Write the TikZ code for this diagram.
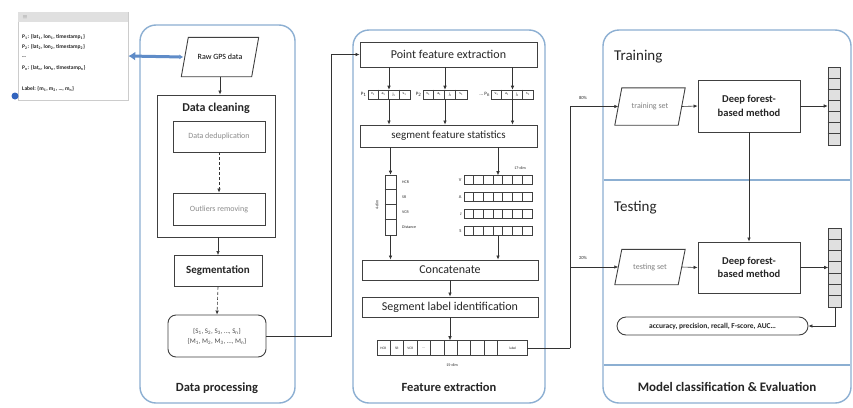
\documentclass[tikz,border=0pt]{standalone}
\usepackage{fontspec}
\setmainfont{Carlito}
\usetikzlibrary{shapes.geometric,arrows.meta,calc}
\definecolor{panelblue}{RGB}{140,175,210}
\definecolor{linkblue}{RGB}{95,140,200}
\definecolor{dotblue}{RGB}{50,100,190}
\tikzset{
  panel/.style={draw=panelblue, line width=1.4pt, rounded corners=16pt},
  box/.style={draw=black!75, line width=0.9pt, inner sep=0pt, align=center, text=black!85},
  arr/.style={-{Latex[length=4pt,width=3.5pt]}, line width=0.6pt, draw=black!80},
  cellbox/.style={draw=black!75, line width=0.6pt, inner sep=0pt},
  para/.style={rectangle, inner sep=0pt, align=center},
  paraline/.style={draw=black!75, line width=0.9pt, line join=miter},
  fs/.style={font=\fontsize{#1}{#1}\selectfont},
  fsb/.style={font=\fontsize{#1}{#1}\selectfont\bfseries},
  lbl/.style={inner sep=0pt, text=black!85},
}
\newcommand\splitcells[4]{% name, n, cell width, offset
  \foreach \i in {1,...,#2} {
    \draw[black!75, line width=0.6pt] ($(#1.north west)+(#4+\i*#3,0)$) -- ($(#1.south west)+(#4+\i*#3,0)$);
  }
}
\newcommand\splitrows[3]{% name, n, cell height
  \foreach \i in {1,...,#2} {
    \draw[black!75, line width=0.6pt] ($(#1.north west)+(0,\i*#3)$) -- ($(#1.north east)+(0,\i*#3)$);
  }
}
\newcommand\paraoutline[2]{% name, slant
  \draw[paraline] (#1.south west) -- ($(#1.north west)+(#2,0)$) -- (#1.north east) -- ($(#1.south east)+(-#2,0)$) -- cycle;
}
\begin{document}
\begin{tikzpicture}[x=1pt,y=-1pt]
\useasboundingbox (0,0) rectangle (853,407);
\fill[white] (0,0) rectangle (853,407);

% ---------- left text box ----------
\node[draw=black!20, line width=0.5pt, minimum width=110pt, minimum height=88pt, inner sep=0pt] (gps) at (73,56) {};
\fill[black!12] ($(gps.north west)+(0.5,0.5)$) rectangle ($(gps.north east)+(-0.5,10)$);
\node[lbl, fs=4, text=black!50] (ico) at (25,17) {$\equiv$};
\node[lbl, fsb=5.5, anchor=west] (g1) at (22,37) {P\textsubscript{1}: \{lat\textsubscript{1}, lon\textsubscript{1}, timestamp\textsubscript{1}\}};
\node[lbl, fsb=5.5, anchor=west] (g2) at (22,47) {P\textsubscript{2}: \{lat\textsubscript{2}, lon\textsubscript{2}, timestamp\textsubscript{2}\}};
\node[lbl, fsb=5.5, anchor=west] (g3) at (22,57) {\dots};
\node[lbl, fsb=5.5, anchor=west] (g4) at (22,68) {P\textsubscript{n}: \{lat\textsubscript{n}, lon\textsubscript{n}, timestamp\textsubscript{n}\}};
\node[lbl, fsb=5.5, anchor=west] (g5) at (22,89) {Label: \{m\textsubscript{1}, m\textsubscript{2}, \dots, m\textsubscript{n}\}};
\node[circle, fill=dotblue, minimum size=7pt, inner sep=0pt] (dot) at (15,96) {};

% ---------- panels ----------
\draw[panel] (140,25) rectangle (295,403);
\draw[panel] (353,30) rectangle (545,403);
\draw[panel] (603,30) rectangle (851,403);
\draw[panelblue, line width=1.4pt] (603.7,180) -- (850.3,180);
\draw[panelblue, line width=1.4pt] (603.7,365) -- (850.3,365);

% ---------- Data processing ----------
\node[para, fs=8, minimum width=77pt, minimum height=39pt] (raw) at (220,57) {Raw GPS data};
\paraoutline{raw}{7}
\draw[linkblue, line width=3pt, {Latex[length=7pt,width=9pt]}-{Latex[length=4pt,width=5pt]}] (gps.east) -- ($(raw.west)+(2,0)$);
\node[box, minimum width=118pt, minimum height=142pt] (clean) at (216,166) {};
\node[lbl, fsb=12] (cleant) at (216,108) {Data cleaning};
\node[box, fs=8, text=black!45, minimum width=92pt, minimum height=31pt] (dedup) at (219,136.5) {Data deduplication};
\node[box, fs=8, text=black!45, minimum width=92pt, minimum height=32pt] (outl) at (219,209) {Outliers removing};
\node[box, fsb=11, minimum width=88pt, minimum height=31pt] (seg) at (218,271) {Segmentation};
\node[box, rounded corners=8pt, fs=7, minimum width=98pt, minimum height=42pt, text=black!70] (sets) at (217,336)
  {\{S\textsubscript{1}, S\textsubscript{2}, S\textsubscript{3}, \dots, S\textsubscript{n}\}\\[3pt]\{M\textsubscript{1}, M\textsubscript{2}, M\textsubscript{3}, \dots, M\textsubscript{n}\}};
\node[lbl, fsb=12.5] (dpt) at (217,388) {Data processing};
\draw[arr] (raw.south) -- (raw.south |- clean.north);
\draw[arr, densely dashed] (dedup.south) -- (outl.north);
\draw[arr] (clean.south -| seg.north) -- (seg.north);
\draw[arr, densely dashed] (seg.south) -- (sets.north);

% ---------- Feature extraction ----------
\node[box, fs=12, minimum width=177pt, minimum height=25pt] (pfe) at (448.5,54.5) {Point feature extraction};
\draw[arr] (sets.east) -- ++(65,0) |- (pfe.west);

\node[cellbox, minimum width=42pt, minimum height=9pt] (v1) at (389,94.5) {};
\node[cellbox, minimum width=44pt, minimum height=9pt] (v2) at (445,94.5) {};
\node[cellbox, minimum width=42pt, minimum height=9pt] (v3) at (512.5,94.5) {};
\splitcells{v1}{3}{10.5}{0}
\splitcells{v2}{3}{11}{0}
\splitcells{v3}{3}{10.5}{0}
\node[lbl, fs=5, anchor=east] (p1) at ($(v1.west)+(-1,0)$) {P\textsubscript{1}};
\node[lbl, fs=5, anchor=east] (p2) at ($(v2.west)+(-1,0)$) {P\textsubscript{2}};
\node[lbl, fs=5, anchor=east] (pn) at ($(v3.west)+(-1,0)$) {\dots\ P\textsubscript{n}};
\foreach \v/\w in {v1/10.5,v2/11,v3/10.5}{
  \foreach \t [count=\k] in {v,a,j,s}{
    \node[lbl, fs=4] at ($(\v.west)+(\k*\w-\w/2,0)$) {\t\textsubscript{1}};
  }
}
\node[box, fs=11, minimum width=177pt, minimum height=22pt] (sfs) at (448.5,136) {segment feature statistics};
\foreach \v in {v1,v2,v3}{
  \draw[arr] (pfe.south -| \v.north) -- (\v.north);
  \draw[arr] (\v.south) -- (sfs.north -| \v.south);
}

% left column (4-dim)
\node[cellbox, minimum width=11pt, minimum height=60pt] (lc) at (390.5,205) {};
\splitrows{lc}{3}{15}
\node[lbl, fs=4, anchor=west] (l1) at (402,182.5) {HCR};
\node[lbl, fs=4, anchor=west] (l2) at (402,197.5) {SR};
\node[lbl, fs=4, anchor=west] (l3) at (402,212.5) {VCR};
\node[lbl, fs=4, anchor=west] (l4) at (402,227.5) {Distance};
\node[lbl, fs=4, rotate=90] (d4) at (377,205) {4-dim};

% right grid (17-dim)
\foreach \nm/\yy/\rl in {gV/180/V, gA/197/A, gJ/214/J, gS/231/S}{
  \node[cellbox, minimum width=68pt, minimum height=9pt] (\nm) at (498,\yy) {};
  \splitcells{\nm}{6}{9.714}{0}
  \node[lbl, fs=4.5, anchor=east] at ($(\nm.west)+(-2,0)$) {\rl};
}
\node[lbl, fs=4] (d17) at (520,168) {17-dim};
\draw[arr] (sfs.south -| lc.north) -- (lc.north);
\draw[arr] (sfs.south -| gV.north) -- (gV.north);

\node[box, fs=12, minimum width=176pt, minimum height=20pt] (concat) at (450,270) {Concatenate};
\draw[arr] (lc.south) -- (concat.north -| lc.south);
\draw[arr] (gS.south) -- (concat.north -| gS.south);
\node[box, fs=12, minimum width=176pt, minimum height=20pt] (sli) at (450,307) {Segment label identification};
\draw[arr] (concat.south) -- (sli.north);

\node[cellbox, minimum width=150pt, minimum height=15pt] (lab) at (452,348) {};
\splitcells{lab}{9}{13.44}{0}
\foreach \t [count=\k] in {HCR,SR,VCR}{
  \node[lbl, fs=3.5] at ($(lab.west)+(\k*13.44-6.72,0)$) {\t};
}
\node[lbl, fs=3.5] (ldots) at ($(lab.west)+(47.04,0)$) {\dots};
\node[lbl, fs=3.5] (llab) at ($(lab.east)+(-14.5,0)$) {label};
\draw[arr] (sli.south) -- (lab.north -| sli.south);
\node[lbl, fs=4] (d15) at (452,365) {15-dim};
\node[lbl, fsb=12.5] (fet) at (449,387) {Feature extraction};

% ---------- Model classification ----------
\node[lbl, fs=15, anchor=west] (trn) at (614,57) {Training};
\node[lbl, fs=15, anchor=west] (tst) at (614,208) {Testing};
\node[para, fs=8, text=black!50, minimum width=70pt, minimum height=37pt] (trs) at (650,106.5) {training set};
\paraoutline{trs}{7}
\node[para, fs=8, text=black!50, minimum width=70pt, minimum height=35pt] (tes) at (650,267) {testing set};
\paraoutline{tes}{7}
\node[box, fsb=10.5, minimum width=102pt, minimum height=52pt] (dfm1) at (749,106) {Deep forest-\\[3pt]based method};
\node[box, fsb=10.5, minimum width=102pt, minimum height=51pt] (dfm2) at (749,267.5) {Deep forest-\\[3pt]based method};
\node[cellbox, fill=black!12, minimum width=12pt, minimum height=78pt] (col1) at (834,106) {};
\splitrows{col1}{6}{11.14}
\node[cellbox, fill=black!12, minimum width=13pt, minimum height=79pt] (col2) at (835,267.5) {};
\splitrows{col2}{6}{11.29}
\node[box, rounded corners=9pt, fsb=7.5, minimum width=191pt, minimum height=18pt] (acc) at (712.5,326) {accuracy, precision, recall, F-score, AUC\dots};

\coordinate (jn) at (570,348);
\draw[line width=0.6pt, black!80] (lab.east) -- (jn);
\draw[arr] (jn) |- ($(trs.west)+(3.5,0)$);
\draw[arr] (jn) |- ($(tes.west)+(3.5,0)$);
\node[lbl, fs=4.5] (p80) at (583,98) {80\%};
\node[lbl, fs=4.5] (p20) at (583,258) {20\%};
\draw[arr] ($(trs.east)+(-3.5,0)$) -- (dfm1.west);
\draw[arr] ($(tes.east)+(-3.5,0)$) -- (dfm2.west);
\draw[arr] (dfm1.east) -- (col1.west |- dfm1.east);
\draw[arr] (dfm2.east) -- (col2.west |- dfm2.east);
\draw[arr] (dfm1.south) -- (dfm2.north);
\draw[arr] (col2.south) |- (acc.east);
\node[lbl, fsb=13] (mce) at (727,387) {Model classification \& Evaluation};
\end{tikzpicture}
\end{document}
